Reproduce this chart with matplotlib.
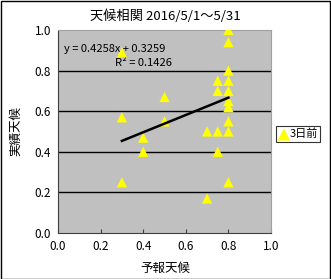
import matplotlib
matplotlib.use("Agg")
import matplotlib.pyplot as plt
import numpy as np

plt.rcParams['font.family'] = ['Noto Sans CJK JP', 'DejaVu Sans']

forecast = [0.3, 0.8, 0.8, 0.8, 0.75, 0.8, 0.75, 0.8, 0.5, 0.8, 0.8, 0.3,
            0.8, 0.5, 0.7, 0.75, 0.8, 0.4, 0.4, 0.75, 0.3, 0.8, 0.7]
actual = [0.89, 1.0, 0.94, 0.8, 0.75, 0.75, 0.7, 0.7, 0.67, 0.65, 0.62, 0.57,
          0.55, 0.55, 0.5, 0.5, 0.5, 0.47, 0.4, 0.4, 0.25, 0.25, 0.17]
slope, intercept, r2 = 0.4258, 0.3259, 0.1426
ticks = [0.0, 0.2, 0.4, 0.6, 0.8, 1.0]

W, H = 331, 279
fig = plt.figure(figsize=(W/100, H/100), dpi=100)
fig.patch.set_facecolor('white')
# border
fig.add_artist(plt.Rectangle((0.5/W, 0.5/H), 1-1.5/W, 1-1.5/H, transform=fig.transFigure,
                             fill=False, edgecolor='black', lw=1))

ax = fig.add_axes([58/W, 1-233/H, (271-58)/W, (233-30)/H])
ax.set_facecolor('#C0C0C0')
ax.set_xlim(0, 1)
ax.set_ylim(0, 1)
for t in ticks[1:-1]:
    ax.axhline(t, color='black', lw=1, zorder=1)
ax.scatter(forecast, actual, marker='^', s=55, color='#FFFF00', edgecolors='none',
           zorder=3, label='3日前')
xs = np.array([min(forecast), max(forecast)])
ax.plot(xs, slope*xs + intercept, color='black', lw=1.8, zorder=4)

ax.set_xticks(ticks)
ax.set_yticks(ticks)
ax.set_xticklabels([f'{t:.1f}' for t in ticks], fontsize=8.5)
ax.set_yticklabels([f'{t:.1f}' for t in ticks], fontsize=8.5)
ax.tick_params(direction='in', length=3, width=0.8, color='#404040', pad=5)
ax.tick_params(axis='y', length=0)
for s in ['top', 'right']:
    ax.spines[s].set_color('#A0A0A0')
for s in ['left', 'bottom']:
    ax.spines[s].set_color('#404040')

ax.text(0.03, 0.905, f'y = {slope}x + {intercept}', fontsize=8, transform=ax.transData,
        va='center', ha='left', zorder=2)
ax.text(0.40, 0.838, f'R² = {r2}', fontsize=8, transform=ax.transData,
        va='center', ha='center', zorder=2)

fig.text(165/W, 1-16/H, '天候相関 2016/5/1～5/31', fontsize=9.5, ha='center', va='center')
fig.text(165/W, 1-268/H, '予報天候', fontsize=9, ha='center', va='center')
fig.text(16/W, 1-131/H, '実績天候', fontsize=9, ha='center', va='center', rotation=90)

leg = fig.legend(loc='center', bbox_to_anchor=(298/W, 1-134/H), frameon=True, fontsize=8,
                 handletextpad=0.0, borderpad=0.2, handlelength=1.0, fancybox=False,
                 borderaxespad=0, markerscale=1.2)
leg.get_frame().set_edgecolor('black')
leg.get_frame().set_linewidth(0.8)

fig.savefig('out.png', dpi=100)
